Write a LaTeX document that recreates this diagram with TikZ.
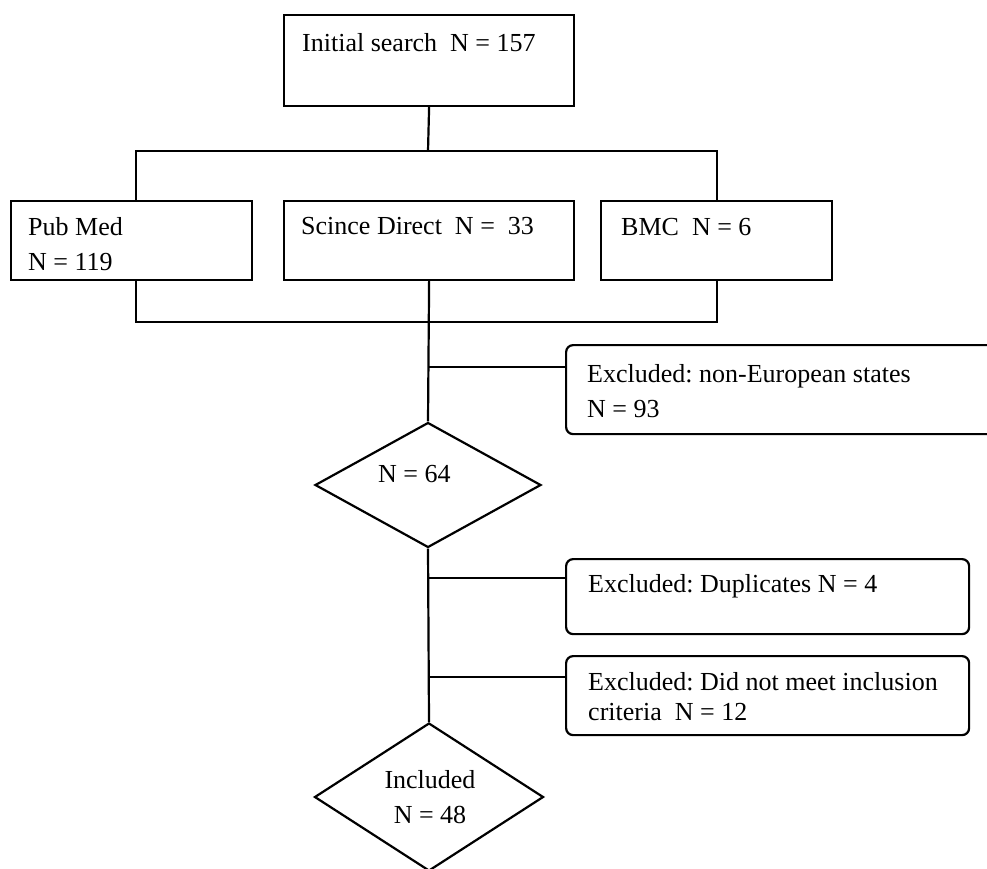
\documentclass[tikz,border=0pt]{standalone}
\usepackage{fontspec}
\setmainfont{Liberation Serif}
\usetikzlibrary{positioning,calc,shapes.geometric}
\frenchspacing

\begin{document}
\begin{tikzpicture}[x=1pt,y=-1pt,
	box/.style={draw,line width=2.2pt,anchor=north west,inner sep=0pt},
	rbox/.style={box,rounded corners=7pt},
	dia/.style={draw,diamond,line width=2.2pt,inner sep=0pt},
	txt/.style={anchor=base west,align=left,inner sep=0pt,font=\fontsize{26}{35}\selectfont},
	link/.style={line width=2.2pt}]

	\useasboundingbox (0,0) rectangle (987,868);

	\node[box,minimum width=290pt,minimum height=91pt] (init) at (283,14) {};
	\node[box,minimum width=241pt,minimum height=79pt] (pubmed) at (10,200) {};
	\node[box,minimum width=290pt,minimum height=79pt] (scidir) at (283,200) {};
	\node[box,minimum width=231pt,minimum height=79pt] (bmc) at (600,200) {};

	\node[rbox,minimum width=430pt,minimum height=89pt] (nonEU) at (565,344) {};
	\node[rbox,minimum width=403pt,minimum height=75pt] (dupl) at (565,558) {};
	\node[rbox,minimum width=403pt,minimum height=79pt] (crit) at (565,655) {};

	\node[dia,minimum width=226pt,minimum height=125pt] (n64) at (428,485) {};
	\node[dia,minimum width=229pt,minimum height=148pt] (incl) at (429,797) {};

	% texts, base = last line
	\node[txt] (init-t) at (302,51) {Initial search~ N = 157};
	\node[txt] (pubmed-t) at (28,270) {Pub Med\\N = 119};
	\node[txt] (scidir-t) at (301,234) {Scince Direct~ N =~ 33};
	\node[txt] (bmc-t) at (621,235) {BMC~ N = 6};
	\node[txt] (nonEU-t) at (587,417) {Excluded: non-European states\\N = 93};
	\node[txt] (dupl-t) at (588,592) {Excluded: Duplicates N = 4};
	\node[txt,font=\fontsize{26}{30}\selectfont] (crit-t) at (588,720) {Excluded: Did not meet inclusion\\criteria~ N = 12};
	\node[txt] (n64-t) at (378,482) {N = 64};
	\node[txt,align=center,anchor=base] (incl-t) at (430,823) {Included\\N = 48};

	% connectors
	\coordinate (split) at (428,151);
	\draw[link] (init.south) -- (split);
	\draw[link] ([xshift=4pt]pubmed.north) |- (split) -| (bmc.north);
	\draw[link] ([xshift=4pt]pubmed.south) -- ++(0,41) -| (bmc.south);
	\draw[link] (scidir.south) -- (n64.north);
	\draw[link] (n64.south) -- (incl.north);

	\coordinate (b1) at (428,367);
	\coordinate (b2) at (428,578);
	\coordinate (b3) at (428,677);
	\draw[link] (b1) -- (b1 -| nonEU.west);
	\draw[link] (b2) -- (b2 -| dupl.west);
	\draw[link] (b3) -- (b3 -| crit.west);

\end{tikzpicture}
\end{document}
